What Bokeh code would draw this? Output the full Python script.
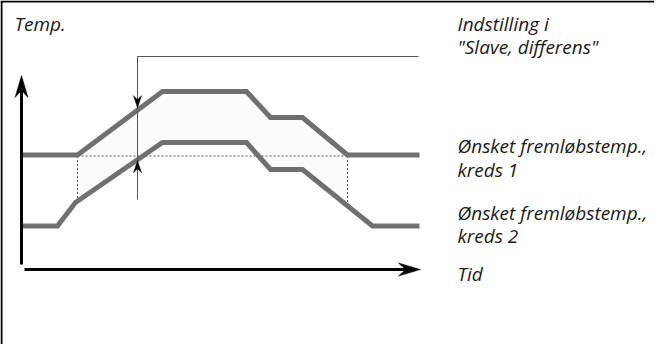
import numpy as np
from bokeh.plotting import figure
from bokeh.models import Range1d, ColumnDataSource
from bokeh.core.properties import value
from bokeh.embed import file_html
from bokeh.resources import INLINE

# ---- data (time units / temperature units) ----
time_k1 = [22, 77, 162, 246, 270, 302, 347, 419]
temp_k1 = [189.5, 189.5, 253, 253, 227, 227, 189.5, 189.5]
time_k2 = [22, 57, 75, 162, 246, 270, 302, 372, 419]
temp_k2 = [118.5, 118.5, 142, 202, 202, 175, 175, 118.5, 118.5]

# differential marker (setting "Slave, differens")
diff_time = 137
diff_line_top = 288
diff_line_bottom = 145
diff_label_end = 418

# axes
axis_origin_x = 21
axis_y_start, axis_y_end = 80, 269
axis_x_y = 75
axis_x_start, axis_x_end = 24, 420

# labels
label_x = 457
labels = ["Indstilling i", "\"Slave, differens\"",
          "Ønsket fremløbstemp.,", "kreds 1",
          "Ønsket fremløbstemp.,", "kreds 2", "Tid"]
label_y = [321, 298, 199, 175, 132, 109, 71]
title_text = ["Temp."]
title_x = [14]
title_y = [321]

W, H = 654, 344
p = figure(width=W, height=H, output_backend="svg", toolbar_location=None,
           x_range=Range1d(0, W), y_range=Range1d(0, H), min_border=0)
p.axis.visible = False
p.grid.visible = False
p.outline_line_color = None
p.background_fill_color = "white"

# frame (top and left border)
p.line([1, 1], [0, H - 1], line_color="black", line_width=2)
p.line([0, W], [H - 1, H - 1], line_color="black", line_width=2)

# shaded band between the curves
t0, t1 = time_k1[1], time_k1[6]
ts = [t for t in time_k1 if t0 <= t <= t1]
upper = [(t, float(np.interp(t, time_k1, temp_k1))) for t in ts]
ts2 = sorted(set([t0, t1] + [t for t in time_k2 if t0 <= t <= t1]))
lower = [(t, float(np.interp(t, time_k2, temp_k2))) for t in ts2][::-1]
poly = upper + lower
p.patch([q[0] for q in poly], [q[1] for q in poly], fill_color="#fbfbfb", line_color=None)

# dotted reference lines
base = temp_k1[0] - 1
p.line([t0, t1], [base, base], line_color="#555555", line_width=1, line_dash="2 2")
p.line([t0, t0], [base, float(np.interp(t0, time_k2, temp_k2))], line_color="#555555",
       line_width=1, line_dash="2 2")
p.line([t1, t1], [base, float(np.interp(t1, time_k2, temp_k2))], line_color="#555555",
       line_width=1, line_dash="2 2")

# curves
for tx, ty in ((time_k1, temp_k1), (time_k2, temp_k2)):
    p.line(tx, ty, line_color="#707070", line_width=5, line_join="miter", line_cap="butt")

# differential marker lines
p.line([diff_time, diff_time], [diff_line_bottom, diff_line_top], line_color="#555555", line_width=1)
p.line([diff_time, diff_label_end], [diff_line_top, diff_line_top], line_color="#555555", line_width=1)


def head(xt, yt, dx, dy, length, width, notch):
    # tip at (xt, yt), pointing along (dx, dy)
    nx, ny = -dy, dx
    bx, by = xt - dx * length, yt - dy * length
    mx, my = xt - dx * notch, yt - dy * notch
    xs = [xt, bx + nx * width / 2, mx, bx - nx * width / 2]
    ys = [yt, by + ny * width / 2, my, by - ny * width / 2]
    return xs, ys


tip_down = float(np.interp(diff_time, time_k1, temp_k1)) + 2.5
tip_up = float(np.interp(diff_time, time_k2, temp_k2)) - 1
hx, hy = head(diff_time, tip_down, 0, -1, 12, 8, 8)
p.patch(hx, hy, fill_color="black", line_color="black", line_width=0.5)
hx, hy = head(diff_time, tip_up, 0, 1, 12, 8, 8)
p.patch(hx, hy, fill_color="black", line_color="black", line_width=0.5)

# axes arrows
p.line([axis_origin_x, axis_origin_x], [axis_y_start, axis_y_end - 14], line_color="black", line_width=3)
hx, hy = head(axis_origin_x, axis_y_end, 0, 1, 22, 13, 15)
p.patch(hx, hy, fill_color="black", line_color="black", line_width=0.5)
p.line([axis_x_start, axis_x_end - 14], [axis_x_y, axis_x_y], line_color="black", line_width=3)
hx, hy = head(axis_x_end, axis_x_y, 1, 0, 22, 13, 15)
p.patch(hx, hy, fill_color="black", line_color="black", line_width=0.5)

# texts
src = ColumnDataSource(dict(x=[label_x] * len(labels), y=label_y, t=labels))
p.text("x", "y", text="t", source=src, text_font=value("Open Sans"), text_font_style="italic",
       text_font_size="19px", text_color="#1a1a1a", text_baseline="alphabetic", text_align="left")
p.text(title_x, title_y, text=title_text, text_font=value("Open Sans"), text_font_style="italic",
       text_font_size="19px", text_color="#1a1a1a", text_baseline="alphabetic", text_align="left")

open("out.html", "w").write(file_html(p, INLINE))
